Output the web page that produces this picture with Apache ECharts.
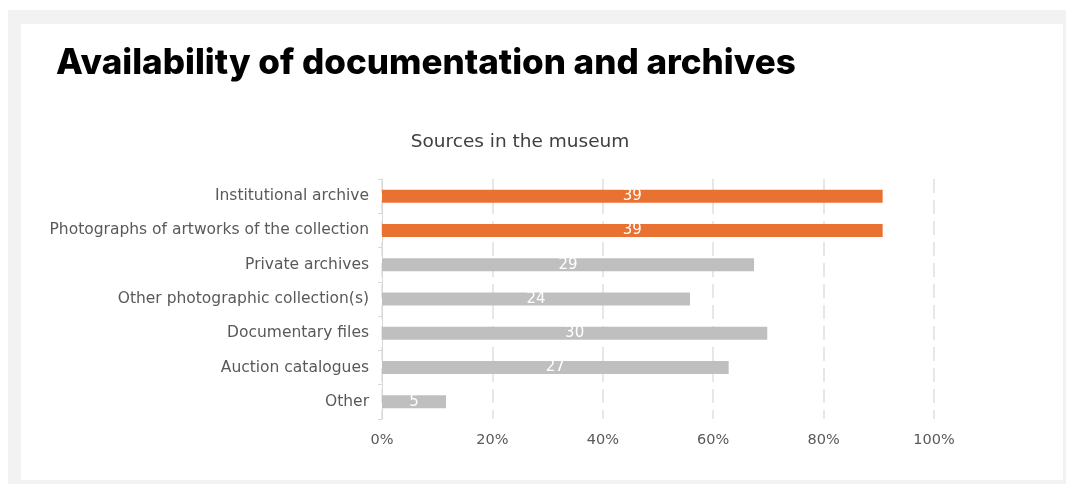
<!DOCTYPE html>
<html>
<head>
<meta charset="utf-8">
<script src="https://cdn.jsdelivr.net/npm/echarts@6/dist/echarts.min.js"></script>
<style>
html,body{margin:0;padding:0;background:#fff;}
#c{width:1066px;height:484px;}
</style>
</head>
<body>
<div id="c"></div>
<script>
const categories = [
  'Institutional archive',
  'Photographs of artworks of the collection',
  'Private archives',
  'Other photographic collection(s)',
  'Documentary files',
  'Auction catalogues',
  'Other'
];
const counts = [39, 39, 29, 24, 30, 27, 5];
const shares = [90.7, 90.7, 67.4, 55.8, 69.8, 62.8, 11.6];
const xTicks = [0, 20, 40, 60, 80, 100];
const highlighted = ['Institutional archive', 'Photographs of artworks of the collection'];

const chart = echarts.init(document.getElementById('c'), null, {renderer: 'canvas'});
chart.setOption({
  animation: false,
  backgroundColor: '#ffffff',
  graphic: [
    {type: 'rect', z: -10, shape: {x: 8, y: 10, width: 1058, height: 474}, style: {fill: '#f2f2f2'}},
    {type: 'rect', z: -9, shape: {x: 21, y: 24, width: 1042, height: 456}, style: {fill: '#ffffff'}}
  ],
  title: [
    {text: 'Availability of documentation and archives', left: 51, top: 41,
     textStyle: {fontFamily: 'Inter', fontWeight: 800, fontSize: 35, color: '#000000'}},
    {text: 'Sources in the museum', left: 515, top: 128, textAlign: 'center',
     textStyle: {fontFamily: 'DejaVu Sans', fontWeight: 'normal', fontSize: 18.5, color: '#404040'}}
  ],
  grid: {left: 382, right: 132, top: 179, bottom: 65, containLabel: false},
  xAxis: {
    type: 'value', min: 0, max: 100, interval: 20,
    axisLine: {show: false}, axisTick: {show: false},
    axisLabel: {formatter: v => xTicks.includes(v) ? v + '%' : '', color: '#595959',
                fontFamily: 'DejaVu Sans', fontSize: 14.5, margin: 14},
    splitLine: {show: true, lineStyle: {color: '#e0e0e0', type: [14, 7], width: 1.5}}
  },
  yAxis: {
    type: 'category', data: categories, inverse: true,
    axisLine: {show: true, lineStyle: {color: '#d9d9d9', width: 1}},
    axisTick: {show: true, length: 4, lineStyle: {color: '#d9d9d9'}},
    axisLabel: {color: '#595959', fontFamily: 'DejaVu Sans', fontSize: 15.5, margin: 13}
  },
  series: [{
    type: 'bar',
    data: shares,
    barWidth: 13,
    itemStyle: {color: p => highlighted.includes(categories[p.dataIndex]) ? '#E97132' : '#BFBFBF'},
    label: {show: true, position: 'inside', color: '#ffffff', fontFamily: 'DejaVu Sans', fontSize: 15,
            formatter: p => String(counts[p.dataIndex])}
  }]
});
</script>
</body>
</html>
